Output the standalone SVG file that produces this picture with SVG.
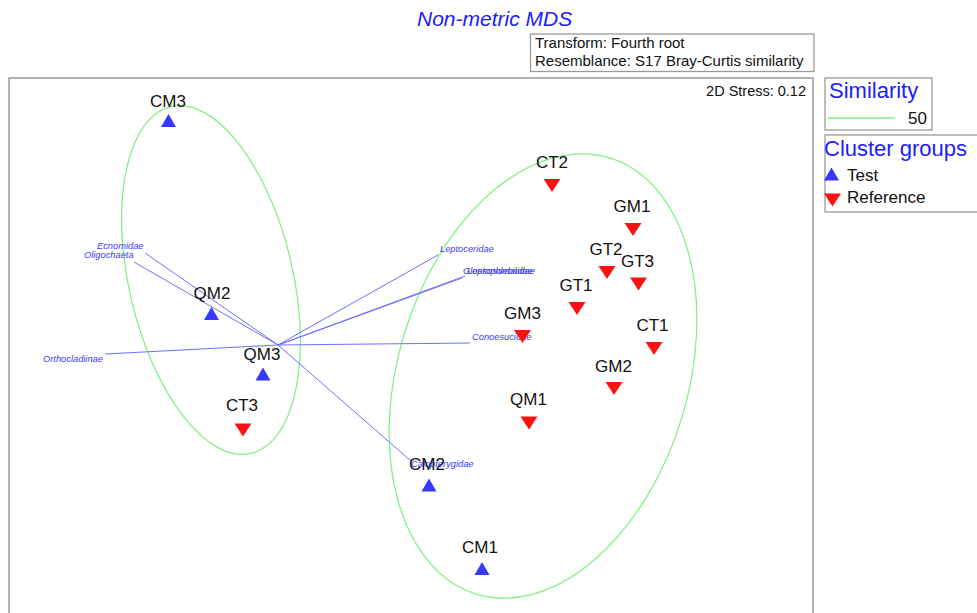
<svg xmlns="http://www.w3.org/2000/svg" xmlns:xlink="http://www.w3.org/1999/xlink" width="977" height="613" viewBox="0 0 977 613">
<style>
  text { font-family: "Liberation Sans", Arial, sans-serif; }
  .title { font-size: 21px; font-style: italic; fill: #2020ff; }
  .info { font-size: 15px; fill: #111; }
  .box { fill: #fff; stroke: #9a9a9a; stroke-width: 1.3; }
  .frame { fill: none; stroke: #9a9a9a; stroke-width: 1.5; }
  .lbl { font-size: 17px; fill: #111; text-anchor: middle; }
  .vlbl { font-size: 9.3px; font-style: italic; fill: #3b3bff; }
  .vec { stroke: #6f6fff; stroke-width: 1; fill: none; }
  .ell { fill: none; stroke: #86f086; stroke-width: 1.3; }
  .legt { font-size: 22px; fill: #2020ff; }
  .legl { font-size: 17px; fill: #111; }
  .up { fill: #3737ff; }
  .down { fill: #ff1010; }
</style>
<defs>
  <path id="tri-up" d="M-7.5,6.5 L7.5,6.5 L0,-6.5 Z"/>
  <path id="tri-down" d="M-8.5,-6.5 L8.5,-6.5 L0,6.5 Z"/>
</defs>
<rect width="977" height="613" fill="#fff"/>

<g id="title">
  <text class="title" x="417" y="26">Non-metric MDS</text>
</g>
<g id="info-box">
  <rect class="box" x="530.5" y="34" width="283.5" height="37.5"/>
  <text class="info" x="535" y="48">Transform: Fourth root</text>
  <text class="info" x="535" y="66">Resemblance: S17 Bray-Curtis similarity</text>
</g>

<g id="plot-frame">
  <rect class="frame" x="9" y="78" width="804" height="560"/>
  <text x="806" y="96" style="font-size:14.5px;fill:#111;text-anchor:end">2D Stress: 0.12</text>
</g>

<g id="clusters">
  <ellipse class="ell" cx="211" cy="280" rx="178" ry="82" transform="rotate(77 211 280)"/>
  <ellipse class="ell" cx="543" cy="376" rx="228" ry="145" transform="rotate(-73 543 376)"/>
</g>

<g id="connectors">
  <line class="vec" x1="278" y1="345" x2="145" y2="253"/>
  <line class="vec" x1="278" y1="345" x2="134" y2="262"/>
  <line class="vec" x1="278" y1="345" x2="105" y2="354"/>
  <line class="vec" x1="278" y1="345" x2="438" y2="255"/>
  <line class="vec" x1="278" y1="345" x2="462" y2="278"/>
  <line class="vec" x1="278" y1="345" x2="465" y2="276"/>
  <line class="vec" x1="278" y1="345" x2="470" y2="343"/>
  <line class="vec" x1="278" y1="345" x2="411" y2="461"/>
</g>

<g id="vector-labels">
  <text class="vlbl" x="97" y="249">Ecnomidae</text>
  <text class="vlbl" x="84" y="258">Oligochaeta</text>
  <text class="vlbl" x="43" y="361.5">Orthocladiinae</text>
  <text class="vlbl" x="440" y="251.5">Leptoceridae</text>
  <text class="vlbl" x="463" y="274">Glossosomatidae</text>
  <text class="vlbl" x="467" y="274">Leptophlebiidae</text>
  <text class="vlbl" x="472" y="340">Conoesucidae</text>
  <text class="vlbl" x="411" y="467">Calopterygidae</text>
</g>

<g id="CM3"><use href="#tri-up" class="up" x="168.5" y="120.5"/><text class="lbl" x="168" y="106.5">CM3</text></g>
<g id="QM2"><use href="#tri-up" class="up" x="211.5" y="313.5"/><text class="lbl" x="212" y="299">QM2</text></g>
<g id="QM3"><use href="#tri-up" class="up" x="263" y="374"/><text class="lbl" x="262" y="359.5">QM3</text></g>
<g id="CM2"><use href="#tri-up" class="up" x="429" y="485"/><text class="lbl" x="427" y="470">CM2</text></g>
<g id="CM1"><use href="#tri-up" class="up" x="482" y="568.5"/><text class="lbl" x="480" y="553">CM1</text></g>

<g id="CT3"><use href="#tri-down" class="down" x="243" y="430"/><text class="lbl" x="242" y="411">CT3</text></g>
<g id="CT2"><use href="#tri-down" class="down" x="552" y="185.5"/><text class="lbl" x="552" y="168">CT2</text></g>
<g id="GM1"><use href="#tri-down" class="down" x="633" y="229.5"/><text class="lbl" x="632" y="211.5">GM1</text></g>
<g id="GT2"><use href="#tri-down" class="down" x="607" y="272.5"/><text class="lbl" x="606" y="255">GT2</text></g>
<g id="GT3"><use href="#tri-down" class="down" x="638.5" y="284"/><text class="lbl" x="637.5" y="266.5">GT3</text></g>
<g id="GT1"><use href="#tri-down" class="down" x="577" y="308.5"/><text class="lbl" x="576" y="290.5">GT1</text></g>
<g id="GM3"><use href="#tri-down" class="down" x="522.5" y="336.5"/><text class="lbl" x="522.5" y="318.5">GM3</text></g>
<g id="CT1"><use href="#tri-down" class="down" x="654" y="348.5"/><text class="lbl" x="652.5" y="330.5">CT1</text></g>
<g id="GM2"><use href="#tri-down" class="down" x="614" y="388.5"/><text class="lbl" x="613.5" y="371.5">GM2</text></g>
<g id="QM1"><use href="#tri-down" class="down" x="529" y="423"/><text class="lbl" x="528.5" y="405">QM1</text></g>

<g id="legend-similarity">
  <rect class="box" x="825" y="78" width="107" height="52"/>
  <text class="legt" x="829" y="98">Similarity</text>
  <line x1="828" y1="118" x2="895" y2="118" stroke="#86f086" stroke-width="1.5"/>
  <text class="legl" x="927" y="123.5" text-anchor="end">50</text>
</g>
<g id="legend-groups">
  <rect class="box" x="825" y="135" width="160" height="77"/>
  <text class="legt" x="824" y="156">Cluster groups</text>
  <use href="#tri-up" class="up" x="831.5" y="174"/>
  <text class="legl" x="847" y="181">Test</text>
  <use href="#tri-down" class="down" x="832.5" y="200"/>
  <text class="legl" x="847" y="203">Reference</text>
</g>
</svg>
